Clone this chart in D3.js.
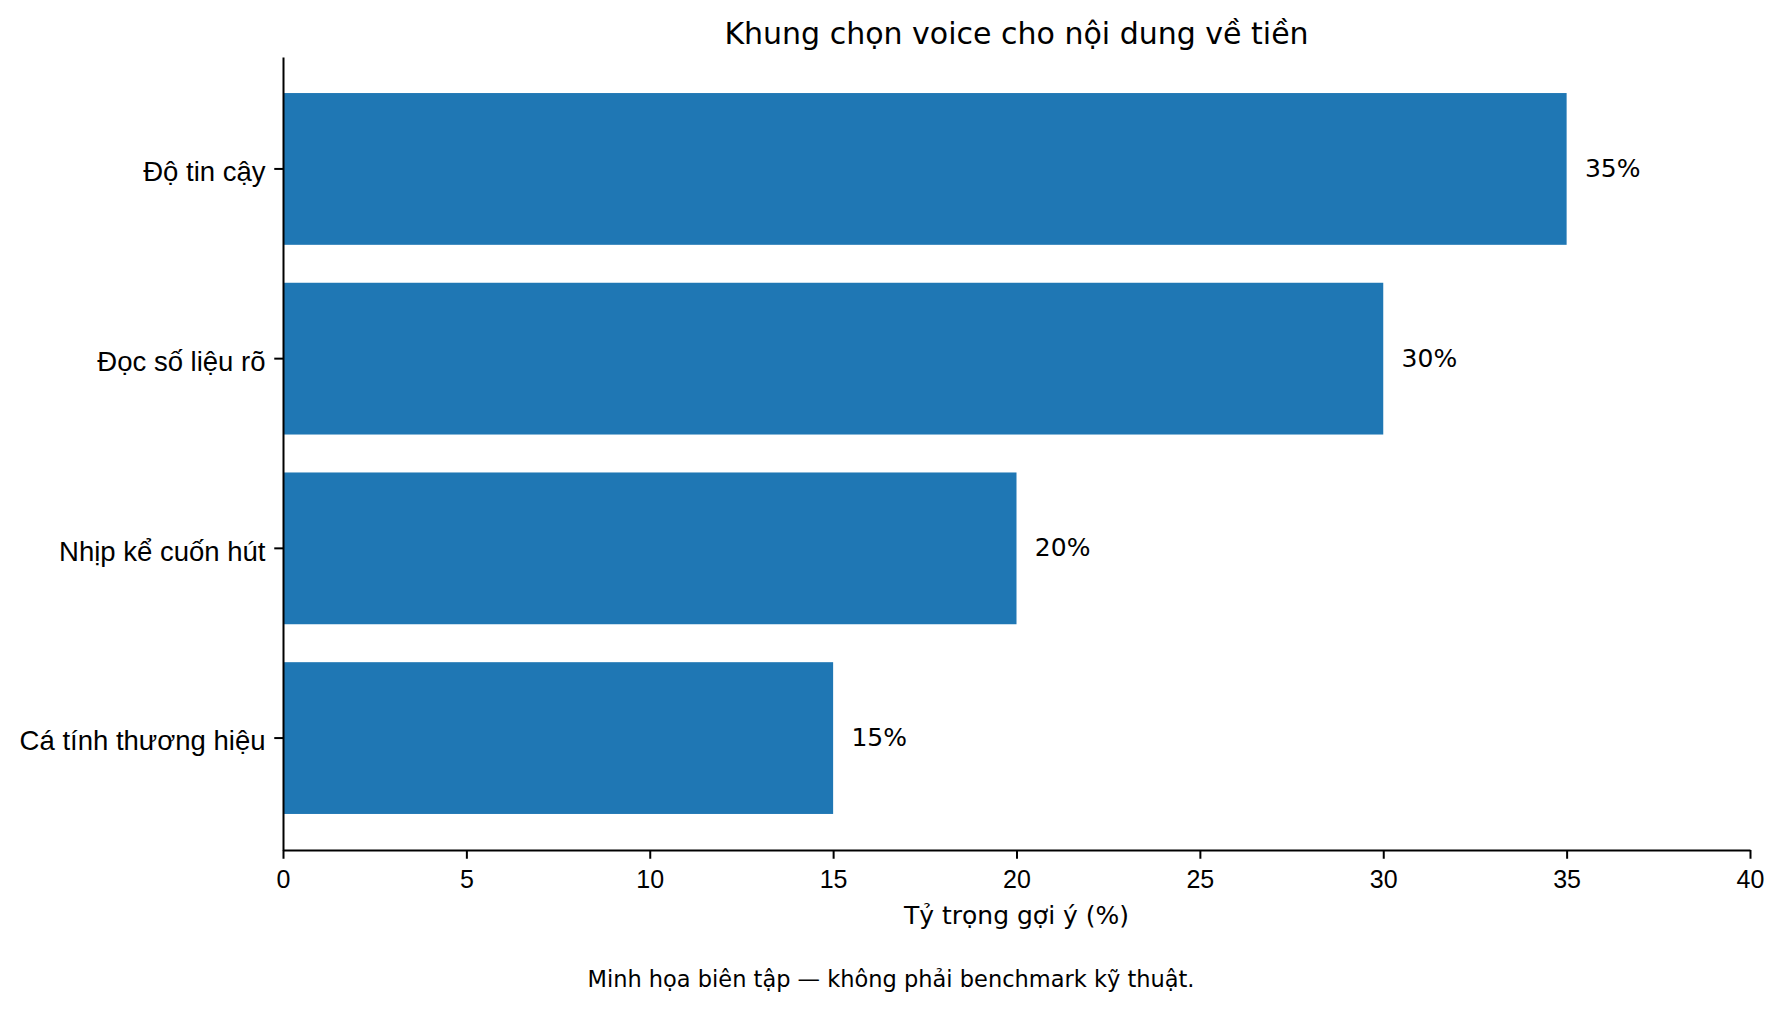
<!DOCTYPE html>
<html>
<head>
<meta charset="utf-8">
<script src="https://cdn.jsdelivr.net/npm/d3@7"></script>
<style>
  body { margin: 0; background: #fff; }
  svg { display: block; font-family: "DejaVu Sans", sans-serif; }
  .axis path, .axis line { stroke: #000; stroke-width: 2px; }
  .axis text { fill: #000; }
</style>
</head>
<body>
<svg width="1782" height="1010"></svg>
<script>
// chart data
const categories = ["Độ tin cậy", "Đọc số liệu rõ", "Nhịp kể cuốn hút", "Cá tính thương hiệu"];
const values = [35, 30, 20, 15];
const xTicks = [0, 5, 10, 15, 20, 25, 30, 35, 40];

const titleText = "Khung chọn voice cho nội dung về tiền";
const xLabel = "Tỷ trọng gợi ý (%)";
const footnote = "Minh họa biên tập — không phải benchmark kỹ thuật.";

const svg = d3.select("svg"),
    width = +svg.attr("width"),
    height = +svg.attr("height");

const margin = { top: 57, right: 32, bottom: 160, left: 283 };
const plotW = width - margin.left - margin.right,
    plotH = height - margin.top - margin.bottom;

const x = d3.scaleLinear()
    .domain([0, 40])
    .range([margin.left, margin.left + plotW]);

const y = d3.scaleBand()
    .domain(categories)
    .range([margin.top, margin.top + plotH])
    .paddingInner(0.2)
    .paddingOuter(0.19);

const data = categories.map((c, i) => ({ name: c, value: values[i] }));

// bars
svg.append("g")
    .selectAll("rect")
    .data(data)
    .join("rect")
    .attr("x", x(0))
    .attr("y", d => y(d.name))
    .attr("width", d => x(d.value) - x(0))
    .attr("height", y.bandwidth())
    .attr("fill", "#1f77b4");

// value labels
svg.append("g")
    .selectAll("text")
    .data(data)
    .join("text")
    .attr("x", d => x(d.value + 0.5))
    .attr("y", d => y(d.name) + y.bandwidth() / 2 + 8)
    .attr("font-size", 25)
    .text(d => d.value + "%");

// axes
const xAxis = svg.append("g")
    .attr("class", "axis")
    .attr("transform", "translate(0," + (margin.top + plotH) + ")")
    .call(d3.axisBottom(x).tickValues(xTicks).tickSize(8.75).tickSizeOuter(0));
xAxis.selectAll("text")
    .attr("font-size", 25)
    .attr("y", 38)
    .attr("dy", 0);

const yAxis = svg.append("g")
    .attr("class", "axis")
    .attr("transform", "translate(" + margin.left + ",0)")
    .call(d3.axisLeft(y).tickSize(8.75).tickPadding(8.75).tickSizeOuter(0));
yAxis.selectAll("text")
    .attr("font-size", 27.5)
    .attr("dy", 12.2);

// texts
svg.append("text")
    .attr("x", margin.left + plotW / 2)
    .attr("y", 44)
    .attr("text-anchor", "middle")
    .attr("font-size", 30)
    .text(titleText);

svg.append("text")
    .attr("x", margin.left + plotW / 2)
    .attr("y", 924)
    .attr("text-anchor", "middle")
    .attr("font-size", 25)
    .text(xLabel);

svg.append("text")
    .attr("x", width / 2)
    .attr("y", 987)
    .attr("text-anchor", "middle")
    .attr("font-size", 22.5)
    .text(footnote);
</script>
</body>
</html>
